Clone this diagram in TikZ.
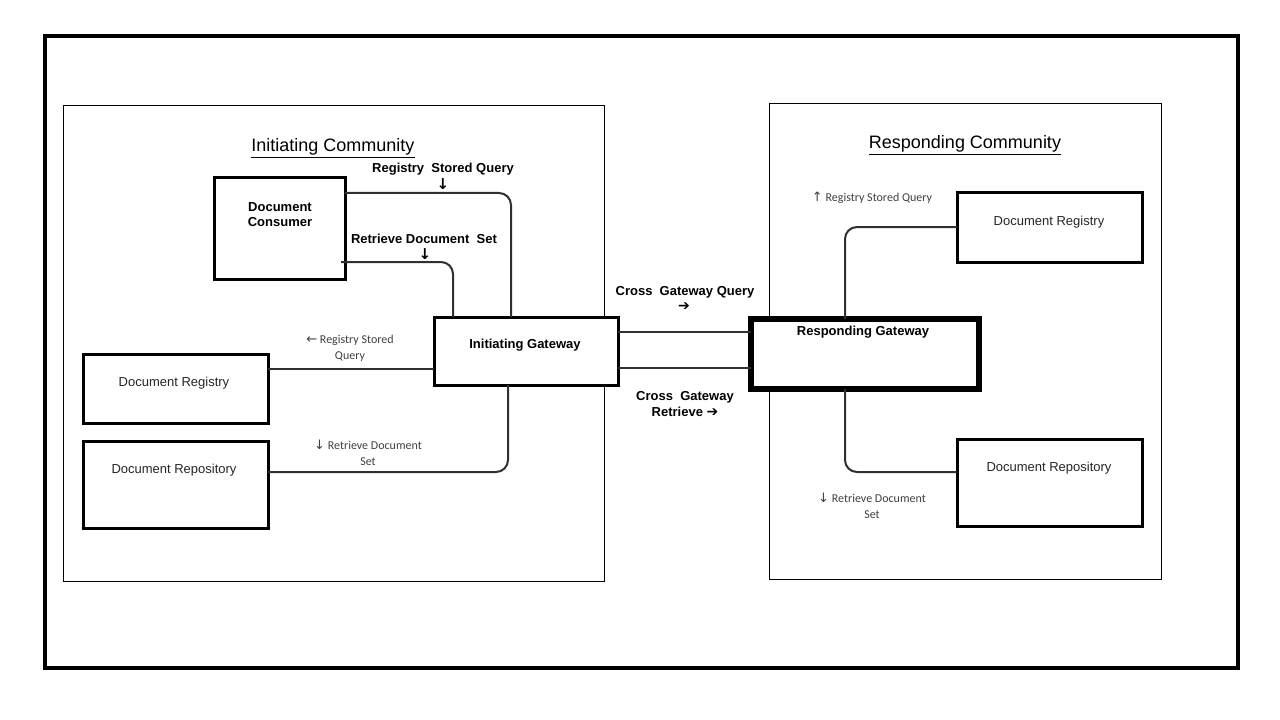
\documentclass[tikz,border=0pt]{standalone}
\usepackage{fontspec}
\setmainfont{Liberation Sans}
\newfontfamily\calib{Carlito}
\newfontfamily\arr{DejaVu Sans}
\definecolor{conn}{HTML}{303030}
\definecolor{lbl}{HTML}{404040}
\begin{document}
\begin{tikzpicture}[x=1bp,y=-1bp,
  box/.style={draw=black,line width=3bp,fill=white,anchor=north west,inner sep=0pt,outer sep=0pt},
  area/.style={draw=black,line width=1bp},
  wire/.style={draw=conn,line width=2bp,rounded corners=12bp},
  bl/.style={font=\fontsize{13bp}{15bp}\selectfont\bfseries,align=center,inner sep=0pt},
  rl/.style={font=\fontsize{13bp}{15bp}\selectfont,text=black!85,align=center,inner sep=0pt},
  cl/.style={font=\calib\fontsize{12bp}{16bp}\selectfont,text=lbl,align=center,inner sep=0pt},
  tl/.style={font=\fontsize{18bp}{20bp}\selectfont,align=center,inner sep=0pt}]
\useasboundingbox (0,0) rectangle (1280,720);
\fill[white] (0,0) rectangle (1280,720);
\draw[line width=3.4bp] (45,36) rectangle (1238,668);
\draw[area] (63,106) rectangle (604,581);
\draw[area] (769,104) rectangle (1161,579);
\node[tl] (tI) at (333,148) {\underline{Initiating Community}};
\node[tl] (tR) at (965,145) {\underline{Responding Community}};
% boxes
\node[box,minimum width=131bp,minimum height=101bp] (dc) at (214,178) {};
\node[bl] (dct) at (280,215) {Document\\Consumer};
\node[box,minimum width=184bp,minimum height=68bp] (ig) at (434,317) {};
\node[bl] (igt) at (525,345) {Initiating Gateway};
\node[box,minimum width=185bp,minimum height=69bp] (dr1) at (83,354) {};
\node[rl] (dr1t) at (174,383) {Document Registry};
\node[box,minimum width=185bp,minimum height=87bp] (dp1) at (83,441) {};
\node[rl] (dp1t) at (174,470) {Document Repository};
\node[box,minimum width=185bp,minimum height=69bp] (dr2) at (957,193) {};
\node[rl] (dr2t) at (1049,222) {Document Registry};
\node[box,minimum width=185bp,minimum height=87bp] (dp2) at (957,439) {};
\node[rl] (dp2t) at (1049,468) {Document Repository};
% connectors
\coordinate (c1) at (345,193);
\coordinate (c2) at (341,262);
\draw[wire] (c1) -- (511,193) -- (ig.north -| 511,0);
\draw[wire] (c2) -- (453,262) -- (ig.north -| 453,0);
\draw[wire,rounded corners=0] (dr1.east |- 0,369) -- (ig.west |- 0,369);
\draw[wire] (ig.south -| 508,0) -- (508,472) -- (dp1.east |- 0,472);
\node[box,line width=6.5bp,minimum width=228bp,minimum height=70bp] (rg) at (751,319) {};
\node[bl] (rgt) at (863,332) {Responding Gateway};
\draw[wire,rounded corners=0] (ig.east |- 0,332) -- (rg.west |- 0,332);
\draw[wire,rounded corners=0] (ig.east |- 0,368) -- (rg.west |- 0,368);
\draw[wire] (rg.north -| 845,0) -- (845,227) -- (dr2.west |- 0,227);
\draw[wire] (rg.south -| 845,0) -- (845,472) -- (dp2.west |- 0,472);
% labels
\node[bl] (l1) at (443,169) {Registry\ \ Stored Query};
\node[bl] (l1a) at (443,184) {\arr\fontsize{15bp}{15bp}\selectfont ↓};
\node[bl] (l2) at (424,239) {Retrieve Document\ \ Set};
\node[bl] (l2a) at (425,254) {\arr\fontsize{15bp}{15bp}\selectfont ↓};
\node[cl] (l3) at (350,348) {{\arr\fontsize{13bp}{13bp}\selectfont ←} Registry Stored\\Query};
\node[cl] (l4) at (368,453) {{\arr\fontsize{13bp}{13bp}\selectfont ↓} Retrieve Document\\Set};
\node[bl] (l5) at (685,292) {Cross\ \ Gateway Query};
\node[bl] (l5a) at (684,307) {\arr\fontsize{14bp}{14bp}\selectfont ➔};
\node[bl] (l6) at (685,397) {Cross\ \ Gateway};
\node[bl] (l6a) at (685,412) {Retrieve {\arr\fontsize{14bp}{14bp}\selectfont ➔}};
\node[cl] (l7) at (872,198) {{\arr\fontsize{13bp}{13bp}\selectfont ↑} Registry Stored Query};
\node[cl] (l8) at (872,506) {{\arr\fontsize{13bp}{13bp}\selectfont ↓} Retrieve Document\\Set};
\end{tikzpicture}
\end{document}
